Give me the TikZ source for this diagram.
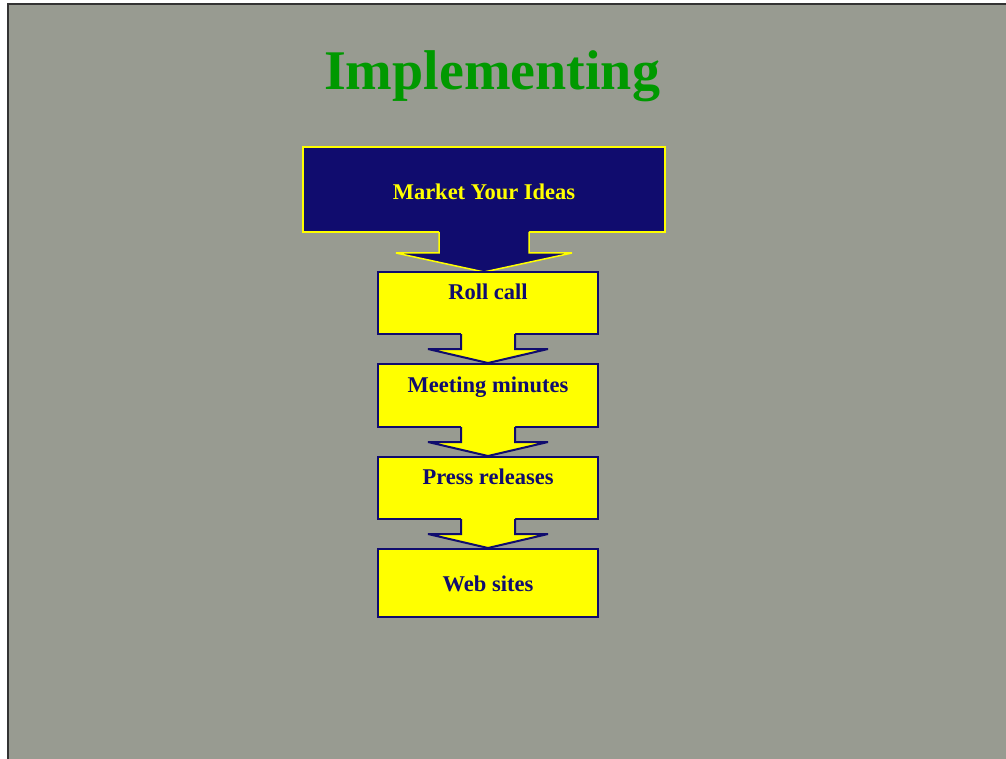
\documentclass[tikz,border=0pt]{standalone}
\usepackage{fontspec}
\setmainfont{Liberation Serif}
\usetikzlibrary{calc}
\definecolor{slidegray}{RGB}{152,155,145}
\definecolor{navy}{RGB}{16,12,110}
\definecolor{titlegreen}{RGB}{0,153,0}
\definecolor{boxyellow}{RGB}{255,255,0}
\tikzset{
  ybox/.style={rectangle, fill=boxyellow, draw=navy, line width=2pt, outer sep=0pt, minimum width=220pt, inner sep=0pt},
  nbox/.style={rectangle, fill=navy, draw=boxyellow, line width=1.5pt, outer sep=0pt, inner sep=0pt},
  ytext/.style={anchor=base, text=navy, font=\fontsize{22.5}{25}\selectfont\bfseries},
  ntext/.style={anchor=base, text=boxyellow, font=\fontsize{22.5}{25}\selectfont\bfseries},
}
% #1 node, #2 stem half width, #3 wing half width, #4 stem length, #5 head length, #6 fill, #7 draw, #8 line width
\newcommand{\flowarrow}[8]{%
  \fill[#6] ($(#1.south)+(-#2,-2)$) -- ($(#1.south)+(-#2,#4)$) -- ($(#1.south)+(-#3,#4)$)
    -- ($(#1.south)+(0,#4+#5)$) -- ($(#1.south)+(#3,#4)$) -- ($(#1.south)+(#2,#4)$)
    -- ($(#1.south)+(#2,-2)$) -- cycle;
  \draw[#7, line width=#8, line join=miter, miter limit=4] ($(#1.south)+(-#2,0)$) -- ($(#1.south)+(-#2,#4)$) -- ($(#1.south)+(-#3,#4)$)
    -- ($(#1.south)+(0,#4+#5)$) -- ($(#1.south)+(#3,#4)$) -- ($(#1.south)+(#2,#4)$)
    -- ($(#1.south)+(#2,0)$);
}
\begin{document}
\begin{tikzpicture}[x=1pt,y=-1pt]
\useasboundingbox (0,0) rectangle (1006,759);
\fill[white] (0,0) rectangle (1006,759);
\fill[slidegray] (8,4) rectangle (1006,759);
\draw[black!80, line width=1.2pt] (8,759) -- (8,4) -- (1006,4);

\node[anchor=base, text=titlegreen, font=\fontsize{56}{60}\selectfont\bfseries] (title) at (492,90) {Implementing};

\node[nbox, minimum width=362pt, minimum height=85pt] (b0) at (484,189.5) {};
\node[ntext] (t0) at (484,200) {Market Your Ideas};
\flowarrow{b0}{45}{88}{21}{19}{navy}{boxyellow}{1.5pt}

\node[ybox, minimum height=62pt] (b1) at (488,303) {};
\node[ytext] (t1) at (488,299) {Roll call};
\flowarrow{b1}{27}{60}{15}{14}{boxyellow}{navy}{2pt}

\node[ybox, minimum height=63pt] (b2) at (488,395.5) {};
\node[ytext] (t2) at (488,392) {Meeting minutes};
\flowarrow{b2}{27}{60}{15}{14}{boxyellow}{navy}{2pt}

\node[ybox, minimum height=62pt] (b3) at (488,488) {};
\node[ytext] (t3) at (488,484) {Press releases};
\flowarrow{b3}{27}{60}{15}{14}{boxyellow}{navy}{2pt}

\node[ybox, minimum height=68pt] (b4) at (488,583) {};
\node[ytext] (t4) at (488,591) {Web sites};
\end{tikzpicture}
\end{document}
